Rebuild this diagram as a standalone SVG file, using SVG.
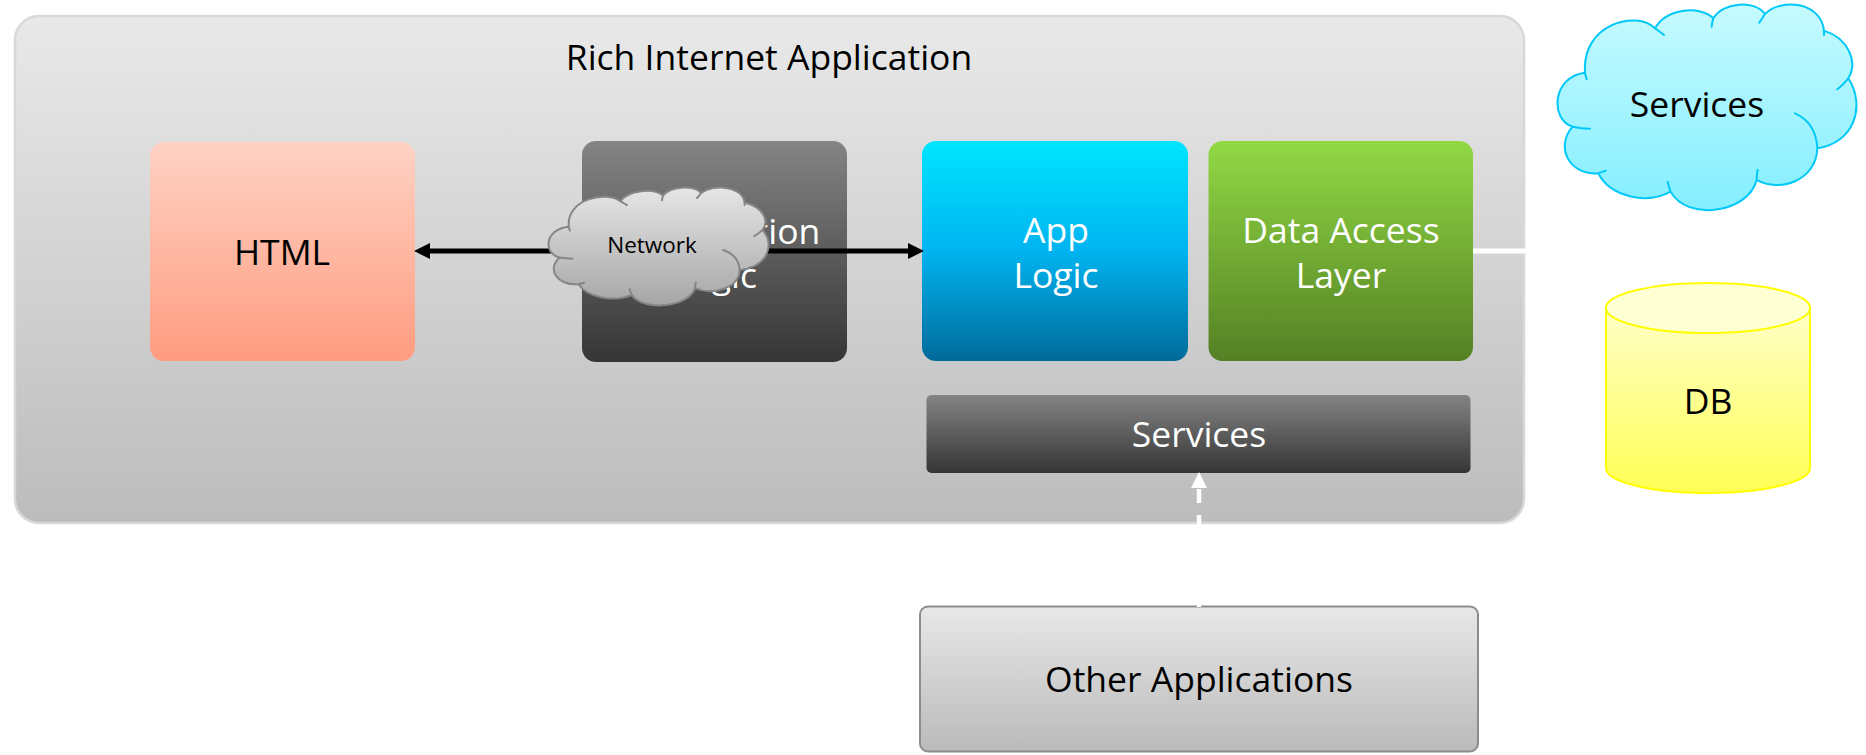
<svg xmlns="http://www.w3.org/2000/svg" width="1866" height="755" viewBox="0 0 1866 755">
<style>
text{font-family:"Open Sans","Noto Sans","Liberation Sans",sans-serif;font-size:35.500px;text-anchor:middle}
.w{fill:#fff}.k{fill:#000}
.s{fill:none;vector-effect:non-scaling-stroke;stroke-linecap:round;stroke-linejoin:round}
.f{stroke:none}
</style>
<defs>
<linearGradient id="gMain" x1="0" y1="0" x2="0" y2="1"><stop offset="0" stop-color="#e9e9e9"/><stop offset="1" stop-color="#bcbcbc"/></linearGradient>
<linearGradient id="gHtml" x1="0" y1="0" x2="0" y2="1"><stop offset="0" stop-color="#ffd2c4"/><stop offset="1" stop-color="#ff9c80"/></linearGradient>
<linearGradient id="gDark" x1="0" y1="0" x2="0" y2="1"><stop offset="0" stop-color="#848484"/><stop offset="1" stop-color="#353535"/></linearGradient>
<linearGradient id="gApp" x1="0" y1="0" x2="0" y2="1"><stop offset="0" stop-color="#00e5ff"/><stop offset=".5" stop-color="#00b4f0"/><stop offset="1" stop-color="#006a9a"/></linearGradient>
<linearGradient id="gData" x1="0" y1="0" x2="0" y2="1"><stop offset="0" stop-color="#92d945"/><stop offset="1" stop-color="#548024"/></linearGradient>
<linearGradient id="gOther" x1="0" y1="0" x2="0" y2="1"><stop offset="0" stop-color="#e8e8e8"/><stop offset="1" stop-color="#bababa"/></linearGradient>
<linearGradient id="gNet" x1="0" y1="0" x2="0" y2="1"><stop offset="0" stop-color="#e6e6e6"/><stop offset="1" stop-color="#a6a6a6"/></linearGradient>
<linearGradient id="gCloud" x1="0" y1="0" x2="0" y2="1"><stop offset="0" stop-color="#c6fbff"/><stop offset="1" stop-color="#84eeff"/></linearGradient>
<linearGradient id="gDb" x1="0" y1="0" x2="0" y2="1"><stop offset="0" stop-color="#ffffc8"/><stop offset="1" stop-color="#ffff55"/></linearGradient>
<path id="cloudFill" class="f" d="M645 85C680 25 780 15 820 55C850 5 945 0 975 42C1030 -10 1145 10 1152 92C1225 115 1255 185 1225 235C1280 320 1240 430 1132 445C1130 540 1020 580 950 540C925 640 740 665 692 575C620 615 510 590 475 520C385 525 345 440 398 380C330 360 335 230 435 218C425 70 590 30 645 85Z"/>
<path id="cloudLine" class="s" d="M672 105C660 95 652 90 645 85C680 25 780 15 820 55C817 62 816 70 815 80M958 68C965 58 970 50 975 42C1030 -10 1145 10 1152 92L1152 105M1152 92C1225 115 1255 185 1225 235C1215 248 1205 258 1192 268M1225 235C1280 320 1240 430 1132 445C1130 400 1110 360 1065 340M1132 445C1130 540 1020 580 950 540C950 530 951 520 953 510M950 540C925 640 740 665 692 575C688 565 685 555 683 545M692 575C620 615 510 590 475 520C482 518 490 515 497 512M475 520C385 525 345 440 398 380C415 384 432 386 450 386M398 380C330 360 335 230 435 218C436 225 438 231 440 238M435 218C425 70 590 30 645 85M820 55C850 5 945 0 975 42"/>
<marker id="ah" viewBox="0 0 16 16" refX="15" refY="8" markerWidth="16" markerHeight="16" markerUnits="userSpaceOnUse" orient="auto"><path d="M0 0L16 8L0 16Z" fill="#000"/></marker>
<marker id="ahw" viewBox="0 0 16 16" refX="15" refY="8" markerWidth="16" markerHeight="16" markerUnits="userSpaceOnUse" orient="auto"><path d="M0 0L16 8L0 16Z" fill="#fff"/></marker>
</defs>
<rect width="1866" height="755" fill="#fff"/>
<g id="main"><rect x="15" y="16" width="1509" height="507" rx="24" fill="url(#gMain)" stroke="#d8d8d8" stroke-width="2.500"/><text class="k" x="769" y="70">Rich Internet Application</text></g>
<g id="html"><rect x="150" y="142" width="265" height="219" rx="14" fill="url(#gHtml)"/><text class="k" x="282" y="265">HTML</text></g>
<g id="presentation"><rect x="582" y="141" width="265" height="221" rx="14" fill="url(#gDark)"/><text class="w" x="714.500" y="244">Presentation</text><text class="w" x="714.500" y="288">Logic</text></g>
<g id="applogic"><rect x="922" y="141" width="266" height="220" rx="14" fill="url(#gApp)"/><text class="w" x="1056" y="243">App</text><text class="w" x="1056" y="288">Logic</text></g>
<g id="data"><rect x="1208.500" y="141" width="264.500" height="220" rx="14" fill="url(#gData)"/><text class="w" x="1341" y="243">Data Access</text><text class="w" x="1341" y="288">Layer</text></g>
<g id="services-bar"><rect x="926.500" y="395" width="544" height="78" rx="5" fill="url(#gDark)"/><text class="w" x="1199" y="447">Services</text></g>
<g id="other"><rect x="920" y="606.500" width="558" height="145" rx="8" fill="url(#gOther)" stroke="#8c8c8c" stroke-width="2"/><text class="k" x="1199" y="692">Other Applications</text></g>
<g id="connectors" fill="none">
<path d="M430 251H908" stroke="#000" stroke-width="5"/>
<path d="M431 251L415 251" stroke="none" marker-end="url(#ah)"/>
<path d="M907 251L923 251" stroke="none" marker-end="url(#ah)"/>
<path d="M1473 251H1525" stroke="#fff" stroke-width="5"/>
<path d="M1199 607V488" stroke="#fff" stroke-width="4.500" stroke-dasharray="92 12 14"/>
<path d="M1199 489L1199 473" stroke="none" marker-end="url(#ahw)"/>
</g>
<g id="network-cloud">
<use href="#cloudFill" transform="translate(462 185) scale(.2453 .191)" fill="url(#gNet)"/>
<use href="#cloudLine" transform="translate(462 185) scale(.2453 .191)" stroke="#868686" stroke-width="2"/>
<text class="k" x="652" y="253" style="font-size:22.500px">Network</text>
</g>
<g id="services-cloud">
<use href="#cloudFill" transform="translate(1440 0) scale(.3333)" fill="url(#gCloud)"/>
<use href="#cloudLine" transform="translate(1440 0) scale(.3333)" stroke="#00c8f8" stroke-width="2"/>
<text class="k" x="1697" y="117">Services</text>
</g>
<g id="db">
<path d="M1606 307V468C1606 482 1652 493 1708 493S1810 482 1810 468V307Z" fill="url(#gDb)" stroke="#ffff00" stroke-width="2"/>
<ellipse cx="1708" cy="308" rx="102" ry="25" fill="#ffffd4" stroke="#ffff00" stroke-width="2"/>
<text class="k" x="1708" y="414">DB</text>
</g>
</svg>
